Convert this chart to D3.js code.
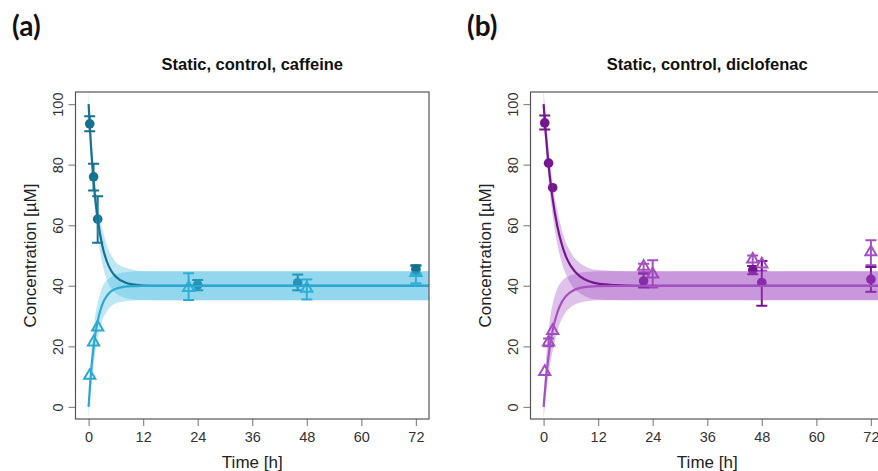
<!DOCTYPE html>
<html>
<head>
<meta charset="utf-8">
<script src="https://cdn.jsdelivr.net/npm/d3@7"></script>
<style>
body { margin: 0; background: #fff; }
svg { display: block; font-family: "Liberation Sans", Arial, sans-serif; }
</style>
</head>
<body>
<svg width="878" height="471"></svg>
<script>
var xTicks = [0, 12, 24, 36, 48, 60, 72],
    yTicks = [0, 20, 40, 60, 80, 100];

// model fit grid (h)
var fitT = [0, 0.5, 1, 1.5, 2, 3, 4, 5, 6, 8, 10, 12, 16, 20, 75];

// (a) caffeine: fitted curves and prediction bands
var aTopMean = [100, 86.7, 76.4, 68.3, 62.1, 53.4, 48.1, 44.9, 43.0, 41.1, 40.4, 40.1, 40, 40, 40],
    aTopHi   = [104.5, 91.5, 81.5, 73.5, 67.5, 59, 53.5, 50, 47.8, 46, 45.2, 44.9, 44.8, 44.8, 44.8],
    aTopLo   = [95.5, 82, 71.5, 63, 56.5, 47.5, 42, 39, 37.5, 36, 35.5, 35.3, 35.2, 35.2, 35.2],
    aBotMean = [0, 10.7, 18.5, 24.2, 28.4, 33.8, 36.6, 38.2, 39.0, 39.7, 39.9, 40, 40, 40, 40],
    aBotHi   = [3, 16, 24.5, 30.5, 34.5, 39.5, 41.8, 43, 43.8, 44.5, 44.7, 44.8, 44.8, 44.8, 44.8],
    aBotLo   = [-4, 5.5, 12.5, 18, 22.5, 28.5, 31.5, 33.3, 34.2, 34.9, 35.1, 35.2, 35.2, 35.2, 35.2];

// (a) measured: filled circles (donor), open triangles (receiver)
var aCircT  = [0.25, 1.1, 2, 24, 46, 72],
    aCircV  = [93.5, 76, 62, 40.3, 41, 45.5],
    aCircLo = [91, 71.5, 54.2, 38.5, 38.5, 44],
    aCircHi = [96, 80.3, 69.6, 41.9, 43.7, 46.8];
var aTriT  = [0.25, 1.1, 2, 22, 48, 72],
    aTriV  = [10, 21, 26, 39, 38.8, 44],
    aTriLo = [10, 21, 26, 35.3, 35.5, 40.8],
    aTriHi = [10, 21, 26, 44.1, 42.1, 46.5];

// (b) diclofenac
var bTopMean = [100, 89.9, 81.5, 74.4, 68.6, 59.8, 53.7, 49.4, 46.5, 43.1, 41.5, 40.7, 40.2, 40, 40],
    bTopHi   = [105, 95, 86.5, 79.5, 73.5, 65, 58.5, 54, 51, 47.5, 45.8, 45.2, 44.9, 44.8, 44.8],
    bTopLo   = [95, 84.5, 76, 69, 63, 54, 47.5, 43.5, 40.5, 37.5, 36, 35.5, 35.3, 35.2, 35.2],
    bBotMean = [0, 8.8, 15.7, 21.1, 25.3, 31.1, 34.6, 36.7, 38.0, 39.3, 39.7, 39.9, 40, 40, 40],
    bBotHi   = [3, 15.5, 24, 30, 34, 39, 41.5, 42.8, 43.5, 44.3, 44.6, 44.8, 44.8, 44.8, 44.8],
    bBotLo   = [-4, 3.5, 9.5, 14.5, 18.5, 25, 29, 31.5, 33, 34.5, 35, 35.2, 35.2, 35.2, 35.2];

var bCircT  = [0.25, 1.1, 2, 22, 46, 48, 72],
    bCircV  = [93.8, 80.5, 72.4, 41.6, 45.2, 41.1, 42.1],
    bCircLo = [91.6, 80.5, 72.4, 39.4, 43.8, 33.4, 38],
    bCircHi = [96.2, 80.5, 72.4, 44, 46.5, 48.2, 46.2];
var bTriT  = [0.25, 1.1, 2, 22, 24, 46, 48, 72],
    bTriV  = [11.3, 21, 24.8, 46, 43.5, 48.4, 46.8, 50.8],
    bTriLo = [11.3, 20, 24.8, 44.5, 39.4, 46.5, 45, 46.8],
    bTriHi = [11.3, 22.6, 24.8, 47.3, 48.4, 50, 48.2, 55];

var svg = d3.select("svg"),
    W = 353.5, plotTop = 92, plotBottom = 419;

function zip(t, v, lo, hi) {
    return t.map(function(d, i) { return {t: d, v: v[i], lo: lo[i], hi: hi[i]}; });
}

var panels = [
    {left: 75.5, tag: "(a)", title: "Static, control, caffeine",
     dark: "#16708e", light: "#2aa8d2", band: "#34b4e0",
     top: zip(fitT, aTopMean, aTopLo, aTopHi), bot: zip(fitT, aBotMean, aBotLo, aBotHi),
     circ: zip(aCircT, aCircV, aCircLo, aCircHi), tri: zip(aTriT, aTriV, aTriLo, aTriHi)},
    {left: 530.5, tag: "(b)", title: "Static, control, diclofenac",
     dark: "#75158f", light: "#a450c2", band: "#9a40bf",
     top: zip(fitT, bTopMean, bTopLo, bTopHi), bot: zip(fitT, bBotMean, bBotLo, bBotHi),
     circ: zip(bCircT, bCircV, bCircLo, bCircHi), tri: zip(bTriT, bTriV, bTriLo, bTriHi)}
];

panels.forEach(function(p, k) {
    var g = svg.append("g").attr("transform", "translate(" + p.left + ",0)");
    var x = d3.scaleLinear().domain([-2.88, 74.88]).range([0, W]);
    var y = d3.scaleLinear().domain([-4, 104]).range([plotBottom, plotTop]);

    g.append("clipPath").attr("id", "clip" + k)
      .append("rect").attr("x", 0).attr("y", plotTop).attr("width", W).attr("height", plotBottom - plotTop);
    var plot = g.append("g").attr("clip-path", "url(#clip" + k + ")");

    // error bars and markers
    function bars(data, color) {
        var eb = plot.append("g").attr("stroke", color).attr("stroke-width", 2);
        var withBar = data.filter(function(d) { return d.hi > d.lo; });
        eb.selectAll(".v").data(withBar).enter().append("line")
            .attr("x1", function(d) { return x(d.t); }).attr("x2", function(d) { return x(d.t); })
            .attr("y1", function(d) { return y(d.lo); }).attr("y2", function(d) { return y(d.hi); });
        ["lo", "hi"].forEach(function(key) {
            eb.selectAll(".c" + key).data(withBar.filter(function(d) { return d[key] !== d.v; }))
                .enter().append("line")
                .attr("x1", function(d) { return x(d.t) - 5.5; }).attr("x2", function(d) { return x(d.t) + 5.5; })
                .attr("y1", function(d) { return y(d[key]); }).attr("y2", function(d) { return y(d[key]); });
        });
    }
    bars(p.tri, p.light);
    bars(p.circ, p.dark);

    plot.selectAll(".tri").data(p.tri).enter().append("path")
        .attr("d", d3.symbol(d3.symbolTriangle).size(54))
        .attr("transform", function(d) { return "translate(" + x(d.t) + "," + (y(d.v) - 1) + ")"; })
        .attr("fill", "none").attr("stroke", p.light).attr("stroke-width", 2);
    plot.selectAll(".circ").data(p.circ).enter().append("circle")
        .attr("cx", function(d) { return x(d.t); }).attr("cy", function(d) { return y(d.v); })
        .attr("r", 4.8).attr("fill", p.dark);

    // prediction bands (drawn over the data, translucent)
    var area = d3.area().curve(d3.curveMonotoneX)
        .x(function(d) { return x(d.t); })
        .y0(function(d) { return y(d.lo); })
        .y1(function(d) { return y(d.hi); });
    [p.top, p.bot].forEach(function(b) {
        plot.append("path").datum(b).attr("d", area)
            .attr("fill", p.band).attr("fill-opacity", 0.32);
    });

    // fitted curves
    var line = d3.line().curve(d3.curveMonotoneX)
        .x(function(d) { return x(d.t); })
        .y(function(d) { return y(d.v); });
    plot.append("path").datum(p.top).attr("d", line)
        .attr("fill", "none").attr("stroke", p.dark).attr("stroke-width", 2.2);
    plot.append("path").datum(p.bot).attr("d", line)
        .attr("fill", "none").attr("stroke", p.light).attr("stroke-width", 2.2);

    // axes
    var xa = g.append("g").attr("transform", "translate(0," + plotBottom + ")")
        .call(d3.axisBottom(x).tickValues(xTicks).tickSize(7).tickPadding(6));
    var ya = g.append("g")
        .call(d3.axisLeft(y).tickValues(yTicks).tickSize(7));
    [xa, ya].forEach(function(a) {
        a.select(".domain").remove();
        a.selectAll("line").attr("stroke", "#8a8a8a").attr("stroke-width", 1.2);
        a.selectAll("text").attr("fill", "#333").style("font-size", "14.5px")
            .style("font-family", "'Liberation Sans', Arial, sans-serif");
    });
    ya.selectAll("text")
        .attr("transform", "rotate(-90)")
        .attr("x", 0).attr("y", -12.5).attr("dy", 0)
        .attr("text-anchor", "middle");

    g.append("rect").attr("x", 0).attr("y", plotTop).attr("width", W).attr("height", plotBottom - plotTop)
        .attr("fill", "none").attr("stroke", "#555").attr("stroke-width", 1.2);

    g.append("text").attr("x", W / 2).attr("y", 468).attr("text-anchor", "middle")
        .attr("fill", "#222").style("font-size", "17px").text("Time [h]");
    g.append("text").attr("transform", "rotate(-90)")
        .attr("x", -(plotTop + plotBottom) / 2).attr("y", -39.5).attr("text-anchor", "middle")
        .attr("fill", "#222").style("font-size", "17px").text("Concentration [µM]");

    g.append("text").attr("x", W / 2).attr("y", 70).attr("text-anchor", "middle")
        .attr("fill", "#111").style("font-size", "16.5px").style("font-weight", "bold").text(p.title);
    g.append("text").attr("x", -63.5).attr("y", 36)
        .attr("fill", "#111").style("font-family", "Lato, 'Open Sans', sans-serif")
        .style("font-size", "28px").style("font-weight", "bold").text(p.tag);
});
</script>
</body>
</html>
